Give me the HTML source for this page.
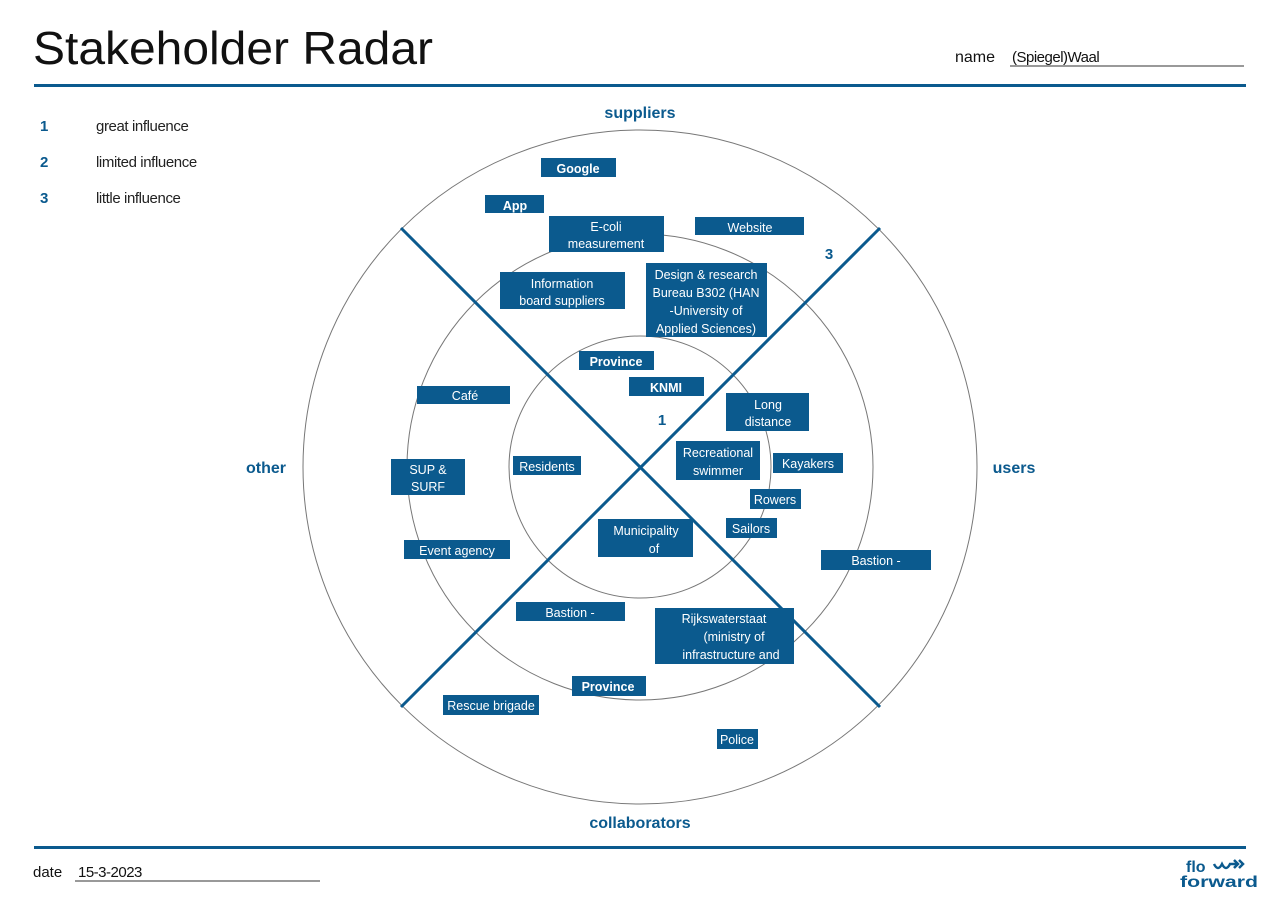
<!DOCTYPE html>
<html><head><meta charset="utf-8"><style>
html,body{margin:0;padding:0;background:#fff;}
svg{display:block;font-family:"Liberation Sans",sans-serif;}
.b{fill:#0b5a8e;}
.t{fill:#fff;font-size:12.5px;text-anchor:middle;}
</style></head><body>
<svg width="1280" height="903" viewBox="0 0 1280 903" xmlns="http://www.w3.org/2000/svg">
<text x="33" y="64" font-size="46" fill="#111" textLength="400" lengthAdjust="spacingAndGlyphs">Stakeholder Radar</text>
<text x="955" y="62" font-size="16" fill="#111">name</text>
<text x="1012" y="62" font-size="15" fill="#111" letter-spacing="-0.5">(Spiegel)Waal</text>
<line x1="1010" y1="66" x2="1244" y2="66" stroke="#333" stroke-width="1"/>
<rect x="34" y="84" width="1212" height="3" fill="#0b5a8e"/>
<rect x="34" y="846" width="1212" height="3" fill="#0b5a8e"/>
<text x="40" y="131" font-size="15" font-weight="bold" fill="#0b5a8e">1</text>
<text x="40" y="167" font-size="15" font-weight="bold" fill="#0b5a8e">2</text>
<text x="40" y="203" font-size="15" font-weight="bold" fill="#0b5a8e">3</text>
<text x="96" y="131" font-size="15" fill="#222" letter-spacing="-0.4">great influence</text>
<text x="96" y="167" font-size="15" fill="#222" letter-spacing="-0.4">limited influence</text>
<text x="96" y="203" font-size="15" fill="#222" letter-spacing="-0.4">little influence</text>
<text x="33" y="877" font-size="15" fill="#111">date</text>
<text x="78" y="877" font-size="15" fill="#111" letter-spacing="-0.5">15-3-2023</text>
<line x1="75" y1="881" x2="320" y2="881" stroke="#333" stroke-width="1"/>
<text x="1186" y="872" font-size="16" font-weight="bold" fill="#0b5a8e">flo</text>
<path d="M1214 864 q4 8 8 0 q4 8 8 0 l8 0 M1234 860 l4 4 -4 4 M1239 860 l4 4 -4 4" fill="none" stroke="#0b5a8e" stroke-width="2.5"/>
<text x="1180" y="887" font-size="16" font-weight="bold" fill="#0b5a8e" textLength="78" lengthAdjust="spacingAndGlyphs">forward</text>

<circle cx="640" cy="467" r="337" fill="none" stroke="#777" stroke-width="1"/>
<circle cx="640" cy="467" r="233" fill="none" stroke="#777" stroke-width="1"/>
<circle cx="640" cy="467" r="131" fill="none" stroke="#777" stroke-width="1"/>
<line x1="401" y1="228" x2="880" y2="707" stroke="#0b5a8e" stroke-width="3"/>
<line x1="880" y1="228" x2="401" y2="707" stroke="#0b5a8e" stroke-width="3"/>

<g font-size="16" font-weight="bold" fill="#0b5a8e" text-anchor="middle">
<text x="640" y="118">suppliers</text>
<text x="266" y="473">other</text>
<text x="1014" y="473">users</text>
<text x="640" y="828">collaborators</text>
<text x="662" y="425" font-size="15">1</text>
<text x="829" y="259" font-size="15">3</text>
</g>

<g>
<rect class="b" x="541" y="158" width="75" height="19"/><text class="t" x="578" y="173" font-weight="bold">Google</text>
<rect class="b" x="485" y="195" width="59" height="18"/><text class="t" x="515" y="210" font-weight="bold">App</text>
<rect class="b" x="549" y="216" width="115" height="36"/><text class="t" x="606" y="231">E-coli</text><text class="t" x="606" y="248">measurement</text>
<rect class="b" x="695" y="217" width="109" height="18"/><text class="t" x="750" y="232">Website</text>
<rect class="b" x="500" y="272" width="125" height="37"/><text class="t" x="562" y="288">Information</text><text class="t" x="562" y="305">board suppliers</text>
<rect class="b" x="646" y="263" width="121" height="74"/><text class="t" x="706" y="279">Design &amp; research</text><text class="t" x="706" y="297">Bureau B302 (HAN</text><text class="t" x="706" y="315">-University of</text><text class="t" x="706" y="333">Applied Sciences)</text>
<rect class="b" x="579" y="351" width="75" height="19"/><text class="t" x="616" y="366" font-weight="bold">Province</text>
<rect class="b" x="629" y="377" width="75" height="19"/><text class="t" x="666" y="392" font-weight="bold">KNMI</text>
<rect class="b" x="417" y="386" width="93" height="18"/><text class="t" x="465" y="400">Café</text>
<rect class="b" x="726" y="393" width="83" height="38"/><text class="t" x="768" y="409">Long</text><text class="t" x="768" y="426">distance</text>
<rect class="b" x="676" y="441" width="84" height="39"/><text class="t" x="718" y="457">Recreational</text><text class="t" x="718" y="475">swimmer</text>
<rect class="b" x="773" y="453" width="70" height="20"/><text class="t" x="808" y="468">Kayakers</text>
<rect class="b" x="513" y="456" width="68" height="19"/><text class="t" x="547" y="471">Residents</text>
<rect class="b" x="391" y="459" width="74" height="36"/><text class="t" x="428" y="474">SUP &amp;</text><text class="t" x="428" y="491">SURF</text>
<rect class="b" x="750" y="489" width="51" height="20"/><text class="t" x="775" y="504">Rowers</text>
<rect class="b" x="726" y="518" width="51" height="20"/><text class="t" x="751" y="533">Sailors</text>
<rect class="b" x="598" y="519" width="95" height="38"/><text class="t" x="646" y="535">Municipality</text><text class="t" x="654" y="553">of</text>
<rect class="b" x="404" y="540" width="106" height="19"/><text class="t" x="457" y="555">Event agency</text>
<rect class="b" x="821" y="550" width="110" height="20"/><text class="t" x="876" y="565">Bastion -</text>
<rect class="b" x="516" y="602" width="109" height="19"/><text class="t" x="570" y="617">Bastion -</text>
<rect class="b" x="655" y="608" width="139" height="56"/><text class="t" x="724" y="623">Rijkswaterstaat</text><text class="t" x="734" y="641">(ministry of</text><text class="t" x="731" y="659">infrastructure and</text>
<rect class="b" x="572" y="676" width="74" height="20"/><text class="t" x="608" y="691" font-weight="bold">Province</text>
<rect class="b" x="443" y="695" width="96" height="20"/><text class="t" x="491" y="710">Rescue brigade</text>
<rect class="b" x="717" y="729" width="41" height="20"/><text class="t" x="737" y="744">Police</text>
</g>
</svg>
</body></html>
